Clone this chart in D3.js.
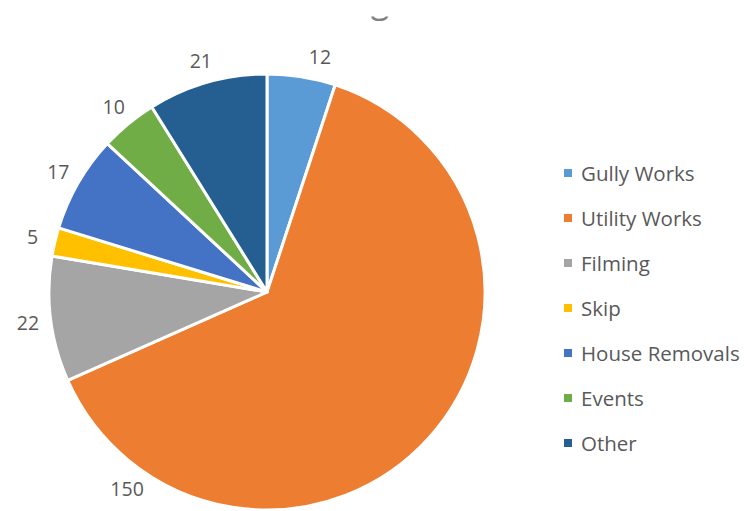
<!DOCTYPE html>
<html>
<head>
<meta charset="utf-8">
<script src="https://cdn.jsdelivr.net/npm/d3@7"></script>
<style>
  html, body { margin: 0; padding: 0; background: #fff; }
  svg { display: block; }
  text { font-family: "Open Sans", "Noto Sans", sans-serif; fill: #595959; }
</style>
</head>
<body>
<svg id="chart" width="744" height="511"></svg>
<script>
// Applications by category, clockwise from 12 o'clock
const categories = ["Gully Works", "Utility Works", "Filming", "Skip", "House Removals", "Events", "Other"];
const counts = [12, 150, 22, 5, 17, 10, 21];
const colours = ["#5B9BD5", "#ED7D31", "#A5A5A5", "#FFC000", "#4472C4", "#70AD47", "#255E91"];

const W = 744, H = 511;
const cx = 267, cy = 292, radius = 218;
const labelRadius = 241;
// labels that sit away from their slice's mid-angle (degrees clockwise from top)
const labelAngleOverride = { "Gully Works": 12.7, "Utility Works": 215.5 };

const svg = d3.select("#chart");

// title, mostly above the visible area
svg.append("clipPath").attr("id", "titleClip")
  .append("rect").attr("x", 0).attr("y", 16.5).attr("width", W).attr("height", 10);
svg.append("text")
  .attr("clip-path", "url(#titleClip)")
  .attr("x", 380).attr("y", 13)
  .attr("text-anchor", "middle")
  .style("font-size", "34px")
  .style("fill", "#7f7f7f")
  .text("g");

const data = categories.map((c, i) => ({ category: c, value: counts[i], colour: colours[i] }));

const pie = d3.pie().value(d => d.value).sort(null);
const arcs = pie(data);
const arc = d3.arc().innerRadius(0).outerRadius(radius);

const g = svg.append("g").attr("transform", `translate(${cx},${cy})`);

g.selectAll("path.slice")
  .data(arcs)
  .join("path")
  .attr("class", "slice")
  .attr("d", arc)
  .attr("fill", d => d.data.colour)
  .attr("stroke", "#fff")
  .attr("stroke-width", 3)
  .attr("stroke-linejoin", "round");

// value labels outside the pie
g.selectAll("text.value")
  .data(arcs)
  .join("text")
  .attr("class", "value")
  .each(function (d) {
    const deg = labelAngleOverride[d.data.category];
    const a = deg !== undefined ? deg * Math.PI / 180 : (d.startAngle + d.endAngle) / 2;
    d3.select(this)
      .attr("x", labelRadius * Math.sin(a))
      .attr("y", -labelRadius * Math.cos(a));
  })
  .attr("text-anchor", "middle")
  .attr("dominant-baseline", "central")
  .style("font-size", "19.5px")
  .text(d => d.data.value);

// legend
const legendX = 564, legendY0 = 173, legendStep = 45;
const legend = svg.append("g");
const items = legend.selectAll("g")
  .data(data)
  .join("g")
  .attr("transform", (d, i) => `translate(${legendX},${legendY0 + i * legendStep})`);
items.append("rect")
  .attr("x", 0).attr("y", -4).attr("width", 8).attr("height", 8)
  .attr("fill", d => d.colour);
items.append("text")
  .attr("x", 17).attr("y", 0)
  .attr("dominant-baseline", "central")
  .style("font-size", "20.5px")
  .text(d => d.category);
</script>
</body>
</html>
